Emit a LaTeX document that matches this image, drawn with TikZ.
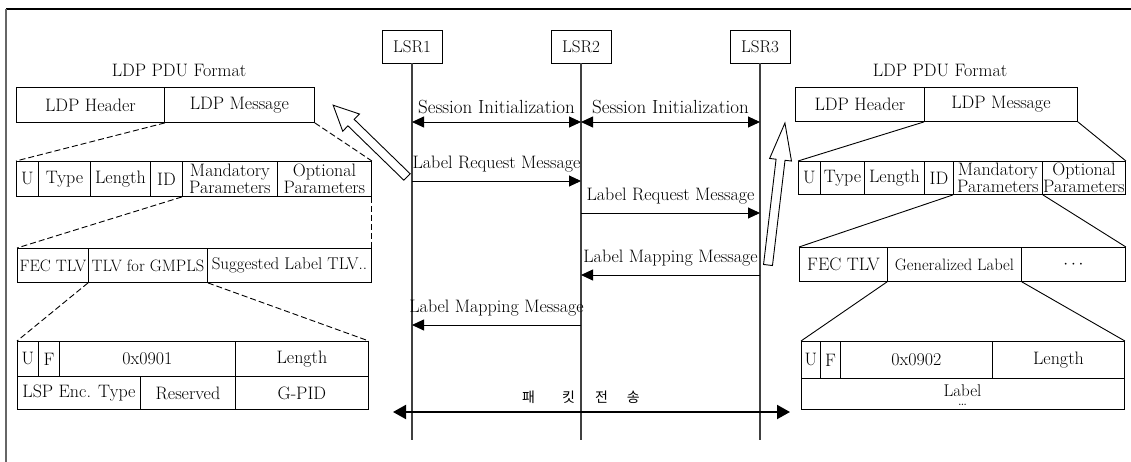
\documentclass[tikz,border=0pt]{standalone}
\usepackage{fontspec}
\newfontfamily\kofont{Noto Sans CJK KR}
\usetikzlibrary{arrows.meta}
\begin{document}
\begin{tikzpicture}[x=1pt,y=-1pt,
  >={Triangle[length=12pt,width=11pt]},
  every node/.style={font=\fontsize{18}{18}\selectfont},
  cell/.style 2 args={draw,line width=0.9pt,anchor=north west,inner sep=0pt,
    minimum width=#1pt,minimum height=#2pt,align=center,font=\fontsize{18}{13}\selectfont},
  small/.style={font=\fontsize{16.5}{13}\selectfont},
  zoomdash/.style={line width=0.9pt,dash pattern=on 6pt off 3pt},
  zoomline/.style={line width=0.9pt},
  lsr/.style={draw,line width=0.9pt,minimum width=60pt,minimum height=33pt,inner sep=0pt,font=\fontsize{17}{17}\selectfont},
  life/.style={line width=1.2pt,black!75},
  msg/.style={line width=0.9pt},
  lbl/.style={above=8pt,inner sep=0pt},
  pkt/.style={line width=2pt,{Triangle[length=13pt,width=14pt]}-{Triangle[length=13pt,width=14pt]}},
  hollow/.style={draw,line width=0.9pt,fill=white}]
\useasboundingbox (0,0) rectangle (1131,462);
% frame
\draw[line width=1.5pt] (6,9) -- (1131,9);
\draw[line width=1.5pt,black!60] (6,9) -- (6,462);

% lifelines
\foreach \i/\x in {1/412,2/581,3/760} {
	\node[lsr] (lsr\i) at (\x,46.5) {LSR\i};
	\coordinate (end\i) at (\x,440);
	\draw[life] (lsr\i) -- (end\i);
	\foreach \lv/\y in {s/122,q/181,r/213,m/275,p/325} {
		\coordinate (l\i-\lv) at (\x,\y);
	}
}
\draw[msg,<->] (l1-s) -- node[lbl,font=\fontsize{19}{19}\selectfont] {Session Initialization} (l2-s);
\draw[msg,<->] (l2-s) -- node[lbl,font=\fontsize{19}{19}\selectfont] {Session Initialization} (l3-s);
\draw[msg,->] (l1-q) -- node[lbl] {Label Request Message} (l2-q);
\draw[msg,->] (l2-r) -- node[lbl] {Label Request Message} (l3-r);
\draw[msg,->] (l3-m) -- node[lbl] {Label Mapping Message} (l2-m);
\draw[msg,->] (l2-p) -- node[lbl] {Label Mapping Message} (l1-p);

% packet transfer
\coordinate (pktL) at (393,412);
\coordinate (pktR) at (790,412);
\draw[pkt] (pktL) -- (pktR);
\node[font=\kofont\fontsize{14}{14}\selectfont] (pkt) at (581,397)
	{패\hspace{27pt}킷\hspace{20pt}전\hspace{19pt}송};

% left PDU
\node (titleL) at (179,70) {LDP PDU Format};
\node[cell={148}{35}] (hdrL) at (16,87) {LDP Header};
\node[cell={150}{35}] (msgL) at (164,87) {LDP Message};
\node[cell={22}{35}] (uL) at (16,161) {U};
\node[cell={52}{35}] (typeL) at (38,161) {Type};
\node[cell={60}{35}] (lenL) at (90,161) {Length};
\node[cell={32}{35}] (idL) at (150,161) {ID};
\node[cell={95}{35}] (manL) at (182,161) {Mandatory\\Parameters};
\node[cell={94}{35}] (optL) at (277,161) {Optional\\Parameters};
\node[cell={71}{34},small] (fecL) at (17,248) {FEC TLV};
\node[cell={119}{34},small] (gmplsL) at (88,248) {TLV for GMPLS};
\node[cell={164}{34},font=\fontsize{17}{13}\selectfont] (sugL) at (207,248) {Suggested Label TLV..};
\node[cell={21}{35}] (uuL) at (17,341) {U};
\node[cell={21}{35}] (fL) at (38,341) {F};
\node[cell={176}{35}] (typL) at (59,341) {0x0901};
\node[cell={133}{35}] (lnL) at (235,341) {Length};
\node[cell={123}{33}] (encL) at (17,376) {LSP Enc. Type};
\node[cell={95}{33}] (resL) at (140,376) {Reserved};
\node[cell={133}{33}] (gpidL) at (235,376) {G-PID};
\draw[zoomdash] (hdrL.south east) -- (uL.north west);
\draw[zoomdash] (msgL.south east) -- (optL.north east);
\draw[zoomdash] (manL.south west) -- (fecL.north west);
\draw[zoomdash] (optL.south east) -- (sugL.north east);
\draw[zoomdash] (gmplsL.south west) -- (uuL.north west);
\draw[zoomdash] (gmplsL.south east) -- (lnL.north east);

% right PDU
\node (titleR) at (940,70) {LDP PDU Format};
\node[cell={129}{34}] (hdrR) at (795,87) {LDP Header};
\node[cell={153}{34}] (msgR) at (924,87) {LDP Message};
\node[cell={22}{33}] (uR) at (798,161) {U};
\node[cell={44}{33}] (typeR) at (820,161) {Type};
\node[cell={60}{33}] (lenR) at (864,161) {Length};
\node[cell={29}{33}] (idR) at (924,161) {ID};
\node[cell={89}{33}] (manR) at (953,161) {Mandatory\\Parameters};
\node[cell={83}{33}] (optR) at (1042,161) {Optional\\Parameters};
\node[cell={88}{34}] (fecR) at (799,247) {FEC TLV};
\node[cell={134}{34},small] (genR) at (887,247) {Generalized Label};
\node[cell={104}{34}] (dotsR) at (1021,247) {$\cdots$};
\node[cell={19}{37}] (uuR) at (801,341) {U};
\node[cell={20}{37}] (fR) at (820,341) {F};
\node[cell={152}{37}] (typR) at (840,341) {0x0902};
\node[cell={132}{37}] (lnR) at (992,341) {Length};
\node[cell={323}{31}] (labR) at (801,378) {};
\node[anchor=base,inner sep=0pt,font=\fontsize{17}{17}\selectfont] (labT) at (962.5,396) {Label};
\node[anchor=base,inner sep=0pt,font=\fontsize{16}{16}\selectfont] (labD) at (962.5,405) {\ldots};
\draw[zoomline] (msgR.south west) -- (uR.north west);
\draw[zoomline] (msgR.south east) -- (optR.north east);
\draw[zoomline] (manR.south west) -- (fecR.north west);
\draw[zoomline] (manR.south east) -- (dotsR.north east);
\draw[zoomline] (genR.south west) -- (uuR.north west);
\draw[zoomline] (genR.south east) -- (lnR.north east);

% hollow arrows
\begin{scope}[shift={(407,177)},rotate=135.8]
	\draw[hollow] (0,-4.5) -- (78,-4.5) -- (78,-12) -- (103,0) -- (78,12) -- (78,4.5) -- (0,4.5) -- cycle;
\end{scope}
\begin{scope}[shift={(768,265)},rotate=83.2]
	\draw[hollow] (0,-4.5) -- (106,-4.5) -- (106,-11) -- (143,0) -- (106,11) -- (106,4.5) -- (0,4.5) -- cycle;
\end{scope}
\end{tikzpicture}
\end{document}
